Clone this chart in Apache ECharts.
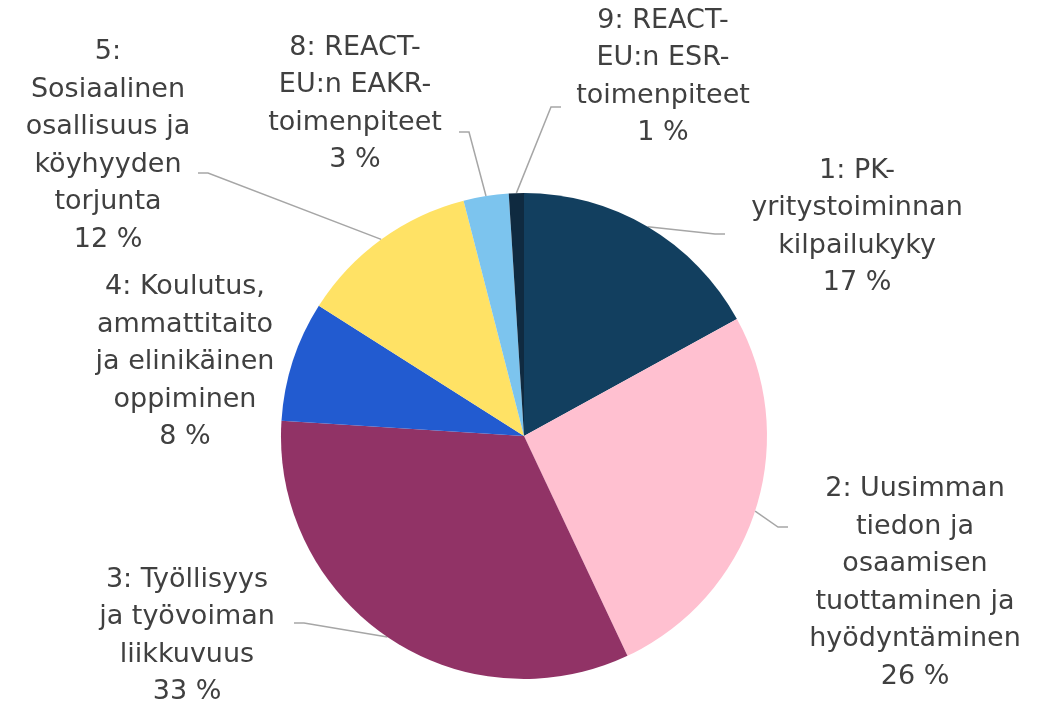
<!DOCTYPE html>
<html>
<head>
<meta charset="utf-8">
<script src="https://cdn.jsdelivr.net/npm/echarts@6/dist/echarts.min.js"></script>
<style>
html,body{margin:0;padding:0;background:#fff;}
#chart{width:1041px;height:701px;}
</style>
</head>
<body>
<div id="chart"></div>
<script>
// Data
const categories = [
  "1: PK-\nyritystoiminnan\nkilpailukyky",
  "2: Uusimman\ntiedon ja\nosaamisen\ntuottaminen ja\nhyödyntäminen",
  "3: Työllisyys\nja työvoiman\nliikkuvuus",
  "4: Koulutus,\nammattitaito\nja elinikäinen\noppiminen",
  "5:\nSosiaalinen\nosallisuus ja\nköyhyyden\ntorjunta",
  "8: REACT-\nEU:n EAKR-\ntoimenpiteet",
  "9: REACT-\nEU:n ESR-\ntoimenpiteet"
];
const values = [17, 26, 33, 8, 12, 3, 1];

// Styling / layout (not data)
const colors = ["#123F5F", "#FFC0D0", "#913366", "#225BD0", "#FFE265", "#7CC4EE", "#0F2A40"];
const labelCenters = [
  [857, 227], [915, 583], [187, 636], [185, 362], [108, 146], [355, 104], [663, 77]
];
// where each leader line meets its label (end of the short horizontal stub)
const lineEnds = [[725, 234], [788, 527], [294, 623], null, [198, 173], [459, 132], [561, 107]];
const PIE_CX = 524, PIE_CY = 436, PIE_R = 243;

const chart = echarts.init(document.getElementById('chart'));
chart.setOption({
  animation: false,
  backgroundColor: '#ffffff',
  series: [{
    type: 'pie',
    center: [PIE_CX, PIE_CY],
    radius: [0, PIE_R],
    startAngle: 90,
    clockwise: true,
    avoidLabelOverlap: false,
    itemStyle: { borderWidth: 0 },
    label: {
      show: true,
      position: 'outside',
      formatter: p => p.name + '\n' + p.value + ' %',
      fontFamily: 'DejaVu Sans',
      fontSize: 27,
      lineHeight: 37.5,
      color: '#404040',
      align: 'center'
    },
    labelLine: {
      show: true,
      length: 20,
      length2: 10,
      lineStyle: { color: '#A6A6A6', width: 1.5 }
    },
    labelLayout: function (params) {
      const i = params.dataIndex;
      const c = labelCenters[i];
      const out = { x: c[0], y: c[1], align: 'center', verticalAlign: 'middle' };
      const e = lineEnds[i];
      if (e && params.labelLinePoints) {
        const p0 = params.labelLinePoints[0];
        const dir = e[0] > PIE_CX ? -1 : 1;
        out.labelLinePoints = [p0, [e[0] + dir * 10, e[1]], [e[0], e[1]]];
      }
      return out;
    },
    data: categories.map((n, i) => ({
      name: n,
      value: values[i],
      itemStyle: { color: colors[i] },
      labelLine: { show: !!lineEnds[i] }
    }))
  }]
});
</script>
</body>
</html>
